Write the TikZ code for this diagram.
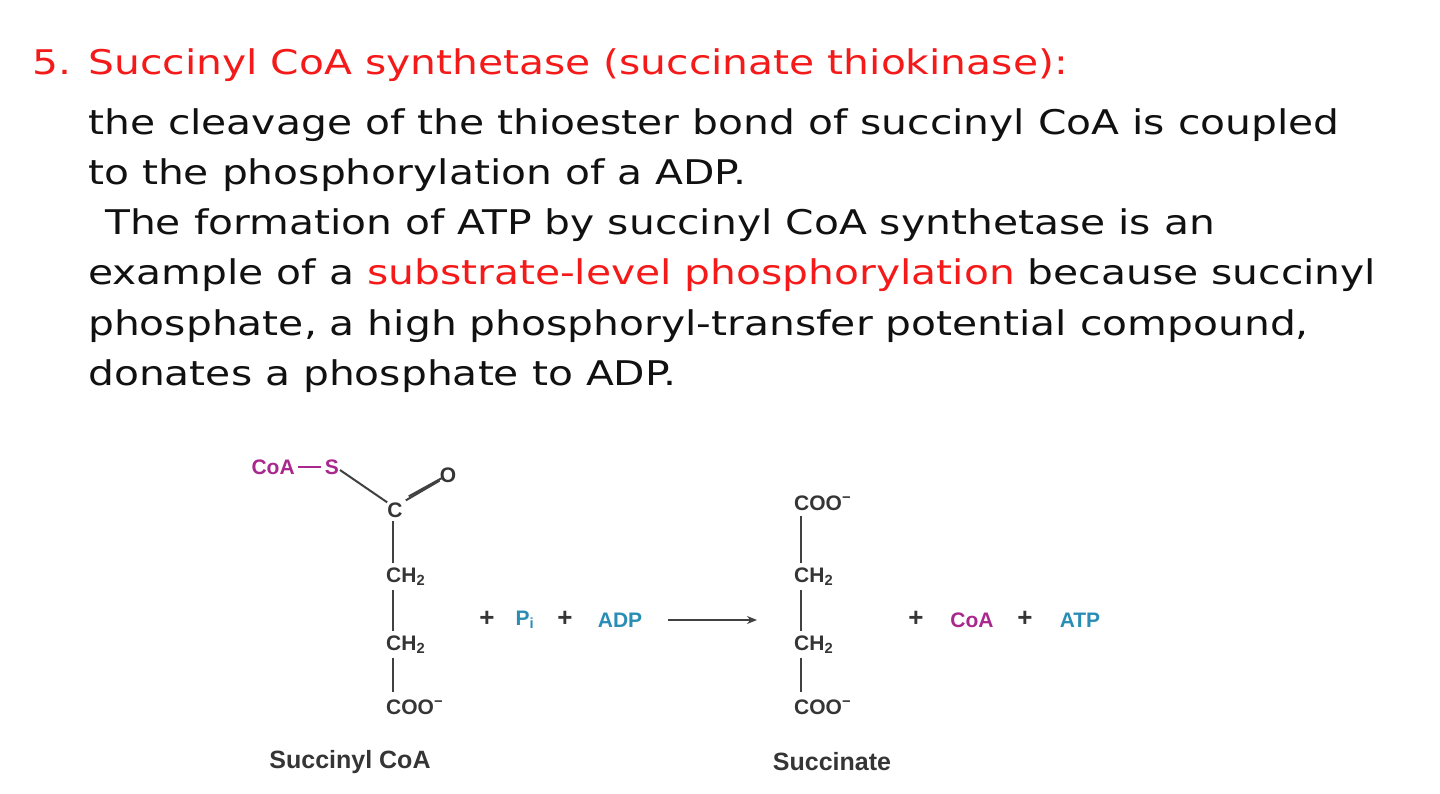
\documentclass[tikz,border=0pt]{standalone}
\usepackage{fontspec}
\usetikzlibrary{arrows.meta}
\setmainfont{DejaVu Sans}[FakeStretch=1.2]
\newfontfamily\chemfont{Liberation Sans}
\definecolor{redt}{HTML}{F41A1A}
\definecolor{mag}{HTML}{A8288E}
\definecolor{blu}{HTML}{2A8DB4}
\definecolor{txt}{HTML}{111111}
\begin{document}
\begin{tikzpicture}[x=1pt,y=-1pt,
  body/.style={anchor=base west,inner sep=0pt,font=\fontsize{34}{40}\selectfont,text=txt},
  chem/.style={inner sep=0pt,font=\chemfont\bfseries\fontsize{21}{24}\selectfont,text=txt!85},
  lab/.style={inner sep=0pt,font=\chemfont\bfseries\fontsize{25}{28}\selectfont,text=txt!85},
  bond/.style={line width=2pt,draw=txt!80}]
\useasboundingbox (0,0) rectangle (1440,794);
\node[body,text=redt] (t1) at (32,75) {5. Succinyl CoA synthetase (succinate thiokinase):};
\node[body] (t2) at (88,135) {the cleavage of the thioester bond of succinyl CoA is coupled};
\node[body] (t3) at (88,185) {to the phosphorylation of a ADP.};
\node[body] (t4) at (105,235) {The formation of ATP by succinyl CoA synthetase is an};
\node[body] (t5) at (88,285) {example of a \textcolor{redt}{substrate-level phosphorylation} because succinyl};
\node[body] (t6) at (88,335) {phosphate, a high phosphoryl-transfer potential compound,};
\node[body] (t7) at (88,385) {donates a phosphate to ADP.};
% succinyl CoA
\node[chem,text=mag,anchor=east] (cs) at (339,467) {CoA\,\rule[0.32em]{1.1em}{1.6pt}\,S};
\node[chem] (c1) at (395,510) {C};
\node[chem] (o1) at (448,475) {O};
\node[chem,anchor=west] (m1) at (386,577) {CH\textsubscript{2}};
\node[chem,anchor=west] (m2) at (386,645) {CH\textsubscript{2}};
\node[chem,anchor=west] (co1) at (386,707) {COO\textsuperscript{−}};
\draw[bond] (cs.east) ++(1,3) -- (c1.north west);
\draw[bond] ([xshift=3pt,yshift=2pt]c1.north east) -- ([yshift=2pt]o1.south west);
\draw[bond] ([xshift=6pt,yshift=6pt]c1.north east) -- ([xshift=3pt,yshift=5pt]o1.south west);
\draw[bond] (393,521) -- (393,563);
\draw[bond] (393,590) -- (393,631);
\draw[bond] (393,658) -- (393,692);
\node[chem,font=\chemfont\bfseries\fontsize{26}{28}\selectfont] (p1) at (487,619) {+};
\node[chem,text=blu] (pi) at (525,620) {P\textsubscript{i}};
\node[chem,font=\chemfont\bfseries\fontsize{26}{28}\selectfont] (p2) at (565,619) {+};
\node[chem,text=blu] (adp) at (620,620) {ADP};
\coordinate (a1) at (668,620);
\coordinate (a2) at (757,620);
\draw[bond,-{Stealth[length=10pt,width=8pt]}] (a1) -- (a2);
% succinate
\node[chem,anchor=west] (s0) at (794,503) {COO\textsuperscript{−}};
\node[chem,anchor=west] (s1) at (794,577) {CH\textsubscript{2}};
\node[chem,anchor=west] (s2) at (794,645) {CH\textsubscript{2}};
\node[chem,anchor=west] (s3) at (794,707) {COO\textsuperscript{−}};
\draw[bond] (801,516) -- (801,563);
\draw[bond] (801,590) -- (801,631);
\draw[bond] (801,658) -- (801,692);
\node[chem,font=\chemfont\bfseries\fontsize{26}{28}\selectfont] (p3) at (916,619) {+};
\node[chem,text=mag] (coa) at (972,620) {CoA};
\node[chem,font=\chemfont\bfseries\fontsize{26}{28}\selectfont] (p4) at (1025,619) {+};
\node[chem,text=blu] (atp) at (1080,620) {ATP};
\node[lab] (l1) at (350,762) {Succinyl CoA};
\node[lab] (l2) at (832,762) {Succinate};
\end{tikzpicture}
\end{document}
